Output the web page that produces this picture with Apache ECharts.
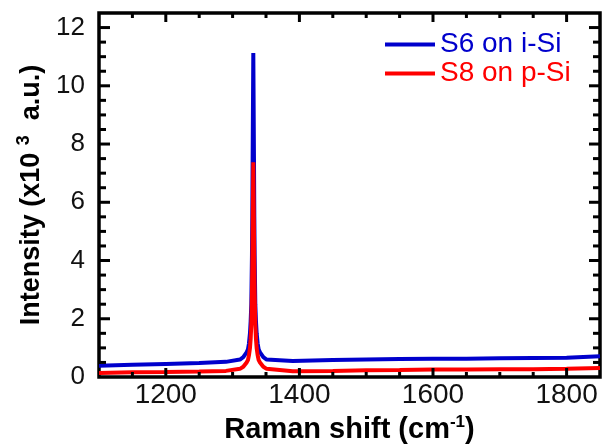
<!DOCTYPE html>
<html>
<head>
<meta charset="utf-8">
<title>Raman spectra</title>
<script src="https://cdn.jsdelivr.net/npm/echarts@6/dist/echarts.min.js"></script>
<style>
  html, body { margin: 0; padding: 0; background: #fff; }
  #chart { width: 610px; height: 445px; }
</style>
</head>
<body>
<div id="chart"></div>
<script>
  // Raman shift (cm-1), shared by both spectra
  var shift = [1100, 1150, 1200, 1250, 1290,
    1311, 1316, 1321, 1323, 1324.5, 1326, 1327, 1328, 1329, 1329.5, 1330,
    1331,
    1332, 1332.5, 1333, 1334, 1335, 1336, 1337.5, 1339, 1341, 1346, 1351,
    1390, 1450, 1500, 1550, 1600, 1650, 1700, 1750, 1800, 1850];

  // intensity, x10^3 a.u.
  var s6Intensity = [0.39, 0.42, 0.45, 0.48, 0.52,
    0.6, 0.68, 0.85, 0.95, 1.15, 1.5, 1.9, 2.5, 4.2, 5.5, 7.5,
    11.13,
    7.5, 5.5, 4.2, 2.5, 1.9, 1.5, 1.15, 0.95, 0.85, 0.68, 0.6,
    0.55, 0.58, 0.6, 0.62, 0.63, 0.63, 0.64, 0.65, 0.66, 0.71];

  var s8Intensity = [0.14, 0.16, 0.17, 0.19, 0.21,
    0.28, 0.35, 0.5, 0.58, 0.75, 1.0, 1.3, 1.8, 2.9, 3.8, 5.0,
    7.37,
    5.0, 3.8, 2.9, 1.8, 1.3, 1.0, 0.75, 0.58, 0.5, 0.35, 0.28,
    0.2, 0.21, 0.23, 0.24, 0.26, 0.26, 0.27, 0.27, 0.28, 0.31];

  // tick labels and tick marks
  var xLabels = [1200, 1400, 1600, 1800];
  var yLabels = [0, 2, 4, 6, 8, 10, 12];
  var xTicks = [1150, 1200, 1250, 1300, 1350, 1400, 1450, 1500, 1550, 1600, 1650, 1700, 1750, 1800];
  var yTicks = [0.5, 1, 1.5, 2, 2.5, 3, 3.5, 4, 4.5, 5, 5.5, 6, 6.5, 7, 7.5, 8, 8.5, 9, 9.5, 10, 10.5, 11, 11.5, 12];

  var font = 'Liberation Sans, Arial, sans-serif';

  function pairs(xs, ys) {
    return xs.map(function (x, i) { return [x, ys[i]]; });
  }

  function tick(x1, y1, x2, y2) {
    return { type: 'line', shape: { x1: x1, y1: y1, x2: x2, y2: y2 },
      style: { stroke: '#000', lineWidth: 3 } };
  }

  // inward ticks on bottom + top, long at labelled values
  function renderXTick(params, api) {
    var p = api.coord([api.value(0), 0]);
    var cs = params.coordSys;
    var len = api.value(0) % 200 === 0 ? 9 : 5;
    var b = cs.y + cs.height;
    return { type: 'group', children: [
      tick(p[0], b, p[0], b - len),
      tick(p[0], cs.y, p[0], cs.y + len)
    ] };
  }

  // inward ticks on left + right
  function renderYTick(params, api) {
    var p = api.coord([1100, api.value(1)]);
    var cs = params.coordSys;
    var len = api.value(1) % 2 === 0 ? 11 : 7;
    var r = cs.x + cs.width;
    return { type: 'group', children: [
      tick(cs.x, p[1], cs.x + len, p[1]),
      tick(r, p[1], r - len, p[1])
    ] };
  }

  var chart = echarts.init(document.getElementById('chart'));

  chart.setOption({
    animation: false,
    grid: {
      left: 99, right: 10, top: 13, bottom: 68,
      containLabel: false, outerBoundsMode: 'none',
      show: true, borderColor: '#000', borderWidth: 3.5, backgroundColor: 'transparent'
    },
    legend: {
      orient: 'vertical', left: 380, top: 25,
      icon: 'rect', itemWidth: 50, itemHeight: 4, itemGap: 0,
      textStyle: { fontSize: 28, fontFamily: font, lineHeight: 29 },
      data: [
        { name: 'S6 on i-Si', textStyle: { color: '#0000cc' } },
        { name: 'S8 on p-Si', textStyle: { color: '#ff0000' } }
      ]
    },
    xAxis: {
      type: 'value', min: 1100, max: 1850, interval: 50,
      axisLine: { show: true, onZero: false, lineStyle: { color: '#000' } },
      axisTick: { show: false },
      axisLabel: {
        customValues: xLabels, margin: 4,
        fontSize: 28, color: '#111', fontFamily: font,
        formatter: function (v) { return String(v); }
      },
      splitLine: { show: false },
      name: 'Raman shift (cm{sup|-1})',
      nameLocation: 'middle',
      nameGap: 37,
      nameTextStyle: {
        fontSize: 29, fontWeight: 'bold', color: '#000', fontFamily: font,
        rich: { sup: { fontSize: 17, fontWeight: 'bold', fontFamily: font, padding: [0, 0, 14, 0] } }
      }
    },
    yAxis: {
      type: 'value', min: 0, max: 12.5, interval: 0.5,
      axisLine: { show: true, onZero: false, lineStyle: { color: '#000' } },
      axisTick: { show: false },
      axisLabel: {
        customValues: yLabels, margin: 14,
        fontSize: 26, color: '#111', fontFamily: font,
        padding: [0, 0, 10, 0],
        formatter: function (v) { return String(v); }
      },
      splitLine: { show: false },
      name: 'Intensity (x10 {sup|3}  a.u.)',
      nameLocation: 'middle',
      nameGap: 47,
      nameTextStyle: {
        fontSize: 27, fontWeight: 'bold', color: '#000', fontFamily: font,
        rich: { sup: { fontSize: 18, fontWeight: 'bold', fontFamily: font, padding: [0, 0, 15, 0] } }
      }
    },
    series: [
      {
        name: 'S6 on i-Si', type: 'line',
        data: pairs(shift, s6Intensity), showSymbol: false, symbol: 'none',
        lineStyle: { color: '#0000cc', width: 4 }, itemStyle: { color: '#0000cc' }
      },
      {
        name: 'S8 on p-Si', type: 'line',
        data: pairs(shift, s8Intensity), showSymbol: false, symbol: 'none',
        lineStyle: { color: '#ff0000', width: 4 }, itemStyle: { color: '#ff0000' }
      },
      {
        type: 'custom', silent: true, clip: false, z: 5,
        data: xTicks.map(function (v) { return [v, 0]; }),
        renderItem: renderXTick
      },
      {
        type: 'custom', silent: true, clip: false, z: 5,
        data: yTicks.map(function (v) { return [1100, v]; }),
        renderItem: renderYTick
      }
    ]
  });
</script>
</body>
</html>
